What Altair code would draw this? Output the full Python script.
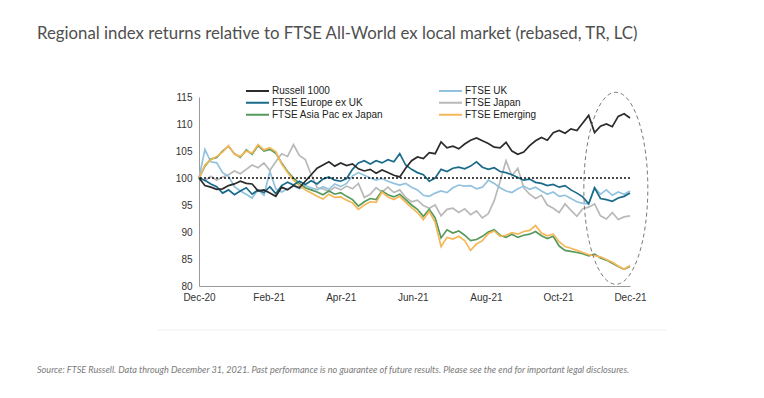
import altair as alt
import pandas as pd

# ---------------- data ----------------
DAYS = list(range(0, 366, 5))  # days after 31 Dec 2020
SERIES = ["Russell 1000", "FTSE UK", "FTSE Europe ex UK", "FTSE Japan",
          "FTSE Asia Pac ex Japan", "FTSE Emerging"]
COLORS = ["#2b2b2b", "#92c3de", "#1a6b8a", "#b9b9b9", "#559a5c", "#f5b757"]

russell = [100.0, 98.6, 98.3, 97.9, 98.0, 98.6, 98.9, 99.4, 99.0, 98.9,
           97.6, 97.8, 97.2, 96.6, 98.3, 97.8, 98.6, 98.2, 99.4, 100.6,
           101.8, 102.4, 103.0, 102.2, 102.8, 102.3, 102.6, 101.7, 101.3, 101.6,
           100.9, 101.5, 101.0, 100.5, 100.2, 101.8, 103.2, 103.9, 103.6, 104.7,
           104.5, 106.7, 105.6, 105.9, 105.4, 106.3, 107.0, 107.4, 106.9, 106.4,
           105.7, 105.6, 106.6, 105.0, 104.4, 104.8, 106.0, 106.9, 107.5, 107.0,
           108.4, 108.8, 108.3, 109.1, 108.8, 110.2, 111.6, 108.4, 109.6, 110.0,
           109.5, 111.4, 111.9, 111.1]
uk = [100.0, 105.3, 103.0, 102.8, 101.0, 100.3, 98.4, 97.6, 97.0, 96.3,
      97.8, 96.8, 101.2, 98.0, 97.4, 98.0, 98.5, 98.0, 98.6, 98.2,
      97.8, 98.4, 97.9, 98.9, 98.4, 99.0, 100.4, 101.0, 100.5, 100.0,
      99.6, 99.9, 99.4, 99.0, 98.7, 99.0, 98.3, 97.8, 96.8, 96.6,
      97.2, 97.6, 97.3, 98.2, 98.7, 98.5, 98.6, 98.0, 98.3, 99.6,
      99.0, 98.2, 97.6, 97.3, 98.0, 98.5, 97.9, 98.3, 97.6, 97.0,
      97.4, 96.6, 96.8, 96.2, 95.6, 95.3, 95.2, 98.2, 97.0, 97.8,
      96.8, 97.4, 97.0, 97.6]
europe = [100.0, 99.6, 98.9, 98.4, 97.2, 97.8, 96.9, 97.6, 98.2, 97.0,
          97.8, 97.3, 98.4, 97.1, 98.6, 99.2, 98.7, 99.4, 98.8, 99.5,
          98.9, 99.8, 100.2, 99.6, 99.4, 99.9, 101.6, 102.8, 103.2, 102.6,
          103.2, 102.8, 103.4, 103.0, 104.5, 102.4, 101.6, 101.0, 100.6, 99.4,
          100.0, 101.6, 101.2, 101.8, 102.0, 101.7, 102.2, 103.0, 102.0, 101.6,
          101.9, 101.2, 101.0, 100.6, 100.1, 99.6, 99.8, 99.2, 99.0, 98.6,
          98.8, 98.3, 98.6, 97.8, 97.2, 96.5, 95.2, 98.2, 96.2, 96.0,
          95.7, 96.3, 96.6, 97.2]
japan = [100.0, 99.5, 100.3, 99.6, 100.2, 100.6, 101.3, 100.8, 101.6, 102.4,
         101.9, 102.8, 101.4, 103.0, 104.5, 104.0, 106.2, 104.2, 103.4, 100.6,
         98.2, 98.0, 97.5, 98.3, 97.8, 98.5, 98.0, 99.0, 96.4, 97.0,
         98.2, 97.4, 98.3, 97.3, 97.8, 96.4, 95.6, 95.9, 94.9, 94.4,
         95.0, 93.0, 94.2, 94.4, 93.6, 94.3, 93.2, 93.9, 92.6, 93.4,
         95.8, 99.4, 103.2, 100.4, 101.8, 98.2, 97.0, 96.2, 96.8, 95.0,
         94.4, 93.6, 95.2, 94.0, 92.9, 94.3, 94.6, 95.2, 93.0, 92.4,
         93.6, 92.3, 92.8, 93.0]
asia = [100.0, 102.2, 103.5, 103.8, 105.0, 105.9, 104.5, 103.8, 105.2, 104.4,
        106.0, 105.0, 105.3, 104.6, 102.8, 101.2, 100.0, 99.0, 98.2, 97.8,
        97.4, 96.9, 97.6, 97.0, 97.3, 96.6, 96.0, 94.8, 95.6, 96.2,
        96.0, 97.6, 96.9, 96.5, 97.0, 96.0, 95.0, 94.2, 92.9, 94.2,
        92.6, 88.9, 90.4, 89.8, 90.2, 89.4, 88.4, 88.6, 89.2, 90.0,
        90.4, 89.4, 89.0, 89.6, 89.0, 89.4, 89.6, 90.1, 89.3, 88.8,
        89.2, 87.4, 86.6, 86.4, 86.2, 86.0, 85.6, 85.9, 85.2, 84.8,
        84.2, 83.6, 83.1, 83.6]
emerging = [100.0, 102.4, 103.4, 104.0, 104.8, 106.0, 104.4, 104.0, 105.0, 104.6,
            106.2, 105.2, 105.6, 104.9, 102.6, 101.0, 99.6, 98.6, 97.8, 97.2,
            96.6, 96.1, 97.0, 96.4, 96.5, 95.9, 95.4, 94.2, 95.0, 95.6,
            95.5, 97.4, 96.5, 96.0, 96.6, 95.5, 94.5, 93.6, 92.3, 93.8,
            91.8, 87.3, 89.0, 88.7, 89.2, 88.4, 86.6, 87.8, 88.4, 89.7,
            90.2, 89.2, 89.4, 89.9, 89.6, 90.1, 90.3, 91.2, 89.8, 89.3,
            89.6, 88.2, 87.3, 87.0, 86.6, 86.2, 85.8, 85.6, 85.4, 84.9,
            84.4, 83.7, 83.1, 83.8]

Y_TICKS = [80, 85, 90, 95, 100, 105, 110, 115]
X_TICKS = [(2020, 12, 31), (2021, 2, 28), (2021, 4, 30), (2021, 6, 30),
           (2021, 8, 31), (2021, 10, 31), (2021, 12, 31)]
ELLIPSE = {"date": ["2021-12-19"], "value": [98.1]}

TITLE = "Regional index returns relative to FTSE All-World ex local market (rebased, TR, LC)"
FOOTER = ("Source: FTSE Russell. Data through December 31, 2021. Past performance is no "
          "guarantee of future results. Please see the end for important legal disclosures.")

# ---------------- table ----------------
start = pd.Timestamp("2020-12-31")
dates = [(start + pd.Timedelta(days=d)).strftime("%Y-%m-%d") for d in DAYS]
rows = []
for name, vals in zip(SERIES, [russell, uk, europe, japan, asia, emerging]):
    for dt, v in zip(dates, vals):
        rows.append({"date": dt, "series": name, "value": v})
df = pd.DataFrame(rows)

W, H = 431, 189
FONT = "Liberation Sans"

xdt = [alt.DateTime(year=y, month=m, date=d, utc=True) for (y, m, d) in X_TICKS]
x_scale = alt.Scale(type="utc", domain=[xdt[0], xdt[-1]])
y_scale = alt.Scale(domain=[80, 115], nice=False, zero=False)
x_axis = alt.Axis(values=xdt, labelExpr="utcFormat(datum.value, '%b-%y')",
                  title=None, labelFlush=False, labelPadding=6, labelOverlap=False)
y_axis = alt.Axis(values=Y_TICKS, title=None, labelPadding=7,
                  labelOverlap=False, labelFlush=False)
x_enc = alt.X("date:T", scale=x_scale, axis=x_axis)
y_enc = alt.Y("value:Q", scale=y_scale, axis=y_axis)
color_enc = alt.Color("series:N",
                      scale=alt.Scale(domain=SERIES, range=COLORS),
                      legend=alt.Legend(title=None, orient="none", legendX=46, legendY=-12,
                                        direction="horizontal",
                                        columns=2, columnPadding=54, rowPadding=0,
                                        clipHeight=11.5, symbolType="stroke",
                                        symbolSize=529, symbolStrokeWidth=2,
                                        labelFont=FONT, labelFontSize=10,
                                        labelColor="#222", labelOffset=2, padding=0))

base = alt.Chart(df)
draw_order = ["FTSE Japan", "FTSE UK", "FTSE Asia Pac ex Japan", "FTSE Emerging",
              "FTSE Europe ex UK", "Russell 1000"]
lines = [base.transform_filter(alt.datum.series == s)
         .mark_line(strokeWidth=1.7)
         .encode(x=x_enc, y=y_enc, color=color_enc)
         for s in draw_order]

ref = alt.Chart(pd.DataFrame({"value": [100]})).mark_rule(
    color="#111", strokeDash=[2, 2], strokeWidth=1.5).encode(y=y_enc)

ellipse_path = "M -0.3333 0 A 0.3333 1 0 1 1 0.3333 0 A 0.3333 1 0 1 1 -0.3333 0 Z"
ellipse = alt.Chart(pd.DataFrame(ELLIPSE)).mark_point(
    shape=ellipse_path, size=36864, filled=False, color="#7a7a7a", stroke="#7a7a7a",
    strokeWidth=1, strokeDash=[4, 3], opacity=1
).encode(x=x_enc, y=y_enc)

title = alt.Chart(pd.DataFrame({"t": [TITLE]})).mark_text(
    align="left", baseline="middle", font="Lato", fontSize=16.8, color="#4f4f4f"
).encode(text="t:N", x=alt.value(-162), y=alt.value(-63))

footer = alt.Chart(pd.DataFrame({"t": [FOOTER]})).mark_text(
    align="left", baseline="middle", font="Lato", fontSize=9.1, fontStyle="italic",
    color="#7a7a7a"
).encode(text="t:N", x=alt.value(-162), y=alt.value(273))

sep = alt.Chart(pd.DataFrame({"a": [0]})).mark_rule(color="#efefef", strokeWidth=1).encode(
    x=alt.value(-41), x2=alt.value(467), y=alt.value(233))

chart = alt.layer(*lines, ref, ellipse, title, footer, sep).properties(
    width=W, height=H,
    padding={"left": 191, "top": 89, "right": 126, "bottom": 104},
    autosize=alt.AutoSizeParams(type="none"),
).configure_view(stroke=None).configure_axis(
    grid=False, ticks=False, domainColor="#9a9a9a", domainWidth=1,
    labelFont=FONT, labelFontSize=10, labelColor="#333333"
)

chart.save("out.html", embed_options={"renderer": "svg", "actions": False})
